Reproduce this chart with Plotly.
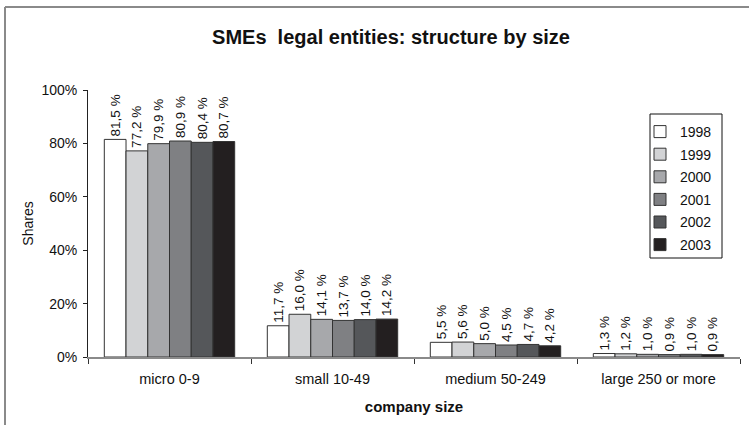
import plotly.graph_objects as go

categories = ["micro 0-9", "small 10-49", "medium 50-249", "large 250 or more"]
years = ["1998", "1999", "2000", "2001", "2002", "2003"]
values = {
    "1998": [81.5, 11.7, 5.5, 1.3],
    "1999": [77.2, 16.0, 5.6, 1.2],
    "2000": [79.9, 14.1, 5.0, 1.0],
    "2001": [80.9, 13.7, 4.5, 0.9],
    "2002": [80.4, 14.0, 4.7, 1.0],
    "2003": [80.7, 14.2, 4.2, 0.9],
}
colors = ["#ffffff", "#d2d3d5", "#a7a8ab", "#7f8083", "#55575a", "#231f20"]
y_ticks = [0, 20, 40, 60, 80, 100]

FONT = "Liberation Sans, Arial, sans-serif"

fig = go.Figure()
for yr, col in zip(years, colors):
    vals = values[yr]
    fig.add_trace(go.Bar(
        name=yr, x=categories, y=vals, legendgroup=yr,
        marker=dict(color=col, line=dict(color="#333333", width=1)),
        text=[f"{v:.1f}".replace(".", ",") + " %" for v in vals],
        textposition="outside", textangle=-90, constraintext="none",
        textfont=dict(family=FONT, size=13.5, color="#111111"),
        cliponaxis=False,
    ))

L, R, T, B = 88, 740, 90, 357
W, H = 749, 425
def px(x):
    return (x - L) / (R - L)
def py(y):
    return (B - y) / (B - T)

fig.update_layout(
    width=W, height=H,
    margin=dict(l=L, r=W - R, t=T, b=H - B),
    paper_bgcolor="white", plot_bgcolor="white",
    barmode="group", bargap=0.2, bargroupgap=0,
    font=dict(family=FONT, size=14, color="#111111"),
    title=dict(text="<b>SMEs  legal entities: structure by size</b>",
               x=391 / W, xanchor="center", y=1 - 37 / H, yanchor="middle",
               font=dict(family=FONT, size=20, color="#111111")),
    showlegend=True,
    legend=dict(x=px(640), y=py(116), xanchor="left", yanchor="top",
                borderwidth=0, bgcolor="rgba(0,0,0,0)",
                font=dict(family=FONT, size=14, color="#111111"),
                traceorder="grouped", itemwidth=30, tracegroupgap=1.4),
    xaxis=dict(showline=True, linecolor="#8a8a8a", linewidth=2,
               ticks="outside", tickson="boundaries", ticklen=5, tickcolor="#333333",
               ticklabelstandoff=8,
               tickfont=dict(family=FONT, size=14.5, color="#111111"),
               title=dict(text="<b>company size</b>", standoff=15,
                          font=dict(family=FONT, size=15, color="#111111"))),
    yaxis=dict(range=[0, 100], tickvals=y_ticks, ticktext=[f"{v}%" for v in y_ticks],
               showline=True, linecolor="#222222", linewidth=1,
               ticks="outside", ticklen=4, tickcolor="#222222",
               ticklabelstandoff=3,
               showgrid=False, zeroline=False,
               tickfont=dict(family=FONT, size=14, color="#111111"),
               title=dict(text="Shares", standoff=4,
                          font=dict(family=FONT, size=14, color="#111111"))),
    shapes=[
        dict(type="line", xref="paper", yref="paper", x0=px(5), x1=px(749), y0=py(7), y1=py(7),
             line=dict(color="#8a8a8a", width=2)),
        dict(type="line", xref="paper", yref="paper", x0=px(5), x1=px(5), y0=py(7), y1=py(425),
             line=dict(color="#8a8a8a", width=2)),
        dict(type="rect", xref="paper", yref="paper", x0=px(650), x1=px(722), y0=py(114), y1=py(258),
             line=dict(color="#111111", width=1), fillcolor="white", layer="above"),
    ],
)

fig.write_html("out.html", config={"displayModeBar": False},
               post_script="document.body.style.margin='0';document.body.style.padding='0';")
